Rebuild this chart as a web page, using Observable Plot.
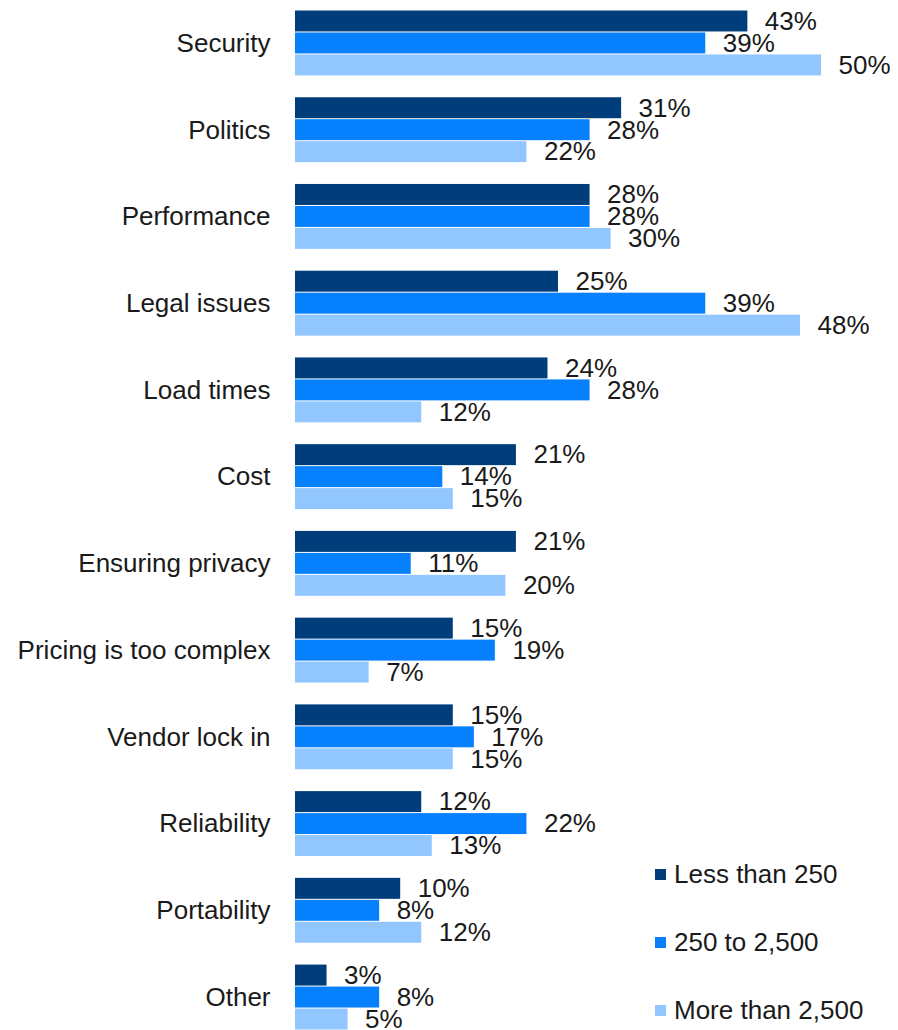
<!DOCTYPE html>
<html>
<head>
<meta charset="utf-8">
<script src="https://cdn.jsdelivr.net/npm/d3@7"></script>
<script src="https://cdn.jsdelivr.net/npm/@observablehq/plot@0.6"></script>
<style>
  body { margin: 0; background: #fff; font-family: "Liberation Sans", Arial, sans-serif; }
  #wrap { position: relative; width: 898px; height: 1030px; overflow: hidden; }
  #legend { position: absolute; left: 655px; top: 0; }
  .item { position: absolute; left: 0; display: flex; align-items: center; height: 30px; white-space: nowrap; font-size: 26px; color: #1a1a1a; }
  .sw { width: 11px; height: 11px; margin-right: 8px; flex: none; }
</style>
</head>
<body>
<div id="wrap"></div>
<script>
const categories = ["Security", "Politics", "Performance", "Legal issues", "Load times", "Cost",
  "Ensuring privacy", "Pricing is too complex", "Vendor lock in", "Reliability", "Portability", "Other"];
const series = ["Less than 250", "250 to 2,500", "More than 2,500"];
const lessThan250   = [43, 31, 28, 25, 24, 21, 21, 15, 15, 12, 10, 3];
const from250To2500 = [39, 28, 28, 39, 28, 14, 11, 19, 17, 22, 8, 8];
const moreThan2500  = [50, 22, 30, 48, 12, 15, 20, 7, 15, 13, 12, 5];
const colors = ["#003d7b", "#0780fd", "#92c6fe"];

const seriesValues = [lessThan250, from250To2500, moreThan2500];
const rows = categories.flatMap((c, i) => series.map((s, j) => ({category: c, series: s, value: seriesValues[j][i]})));

const chart = Plot.plot({
  width: 898,
  height: 1030,
  marginTop: 10,
  marginBottom: 0,
  marginLeft: 295,
  marginRight: 77,
  style: {fontFamily: "'Liberation Sans', Arial, sans-serif", fontSize: "26px", color: "#1a1a1a", background: "#fff"},
  x: {domain: [0, 50], axis: null},
  y: {domain: series, axis: null, padding: 0, round: false},
  fy: {domain: categories, paddingInner: 0.24, paddingOuter: 0, round: false, label: null, axis: "left", tickSize: 0, tickPadding: 25},
  color: {domain: series, range: colors},
  marks: [
    Plot.barX(rows, {x: "value", y: "series", fy: "category", fill: "series", insetTop: 0.5, insetBottom: 0.5}),
    Plot.text(rows, {x: "value", y: "series", fy: "category", text: d => d.value + "%", textAnchor: "start", dx: 17, fill: "#1a1a1a", fontSize: 26})
  ]
});
const wrap = document.getElementById("wrap");
wrap.appendChild(chart);

const legend = document.createElement("div");
legend.id = "legend";
series.forEach((s, j) => {
  const item = document.createElement("div");
  item.className = "item";
  item.style.top = (859 + j * 68) + "px";
  const sw = document.createElement("span");
  sw.className = "sw";
  sw.style.background = colors[j];
  const t = document.createElement("span");
  t.textContent = s;
  item.appendChild(sw);
  item.appendChild(t);
  legend.appendChild(item);
});
wrap.appendChild(legend);
</script>
</body>
</html>
